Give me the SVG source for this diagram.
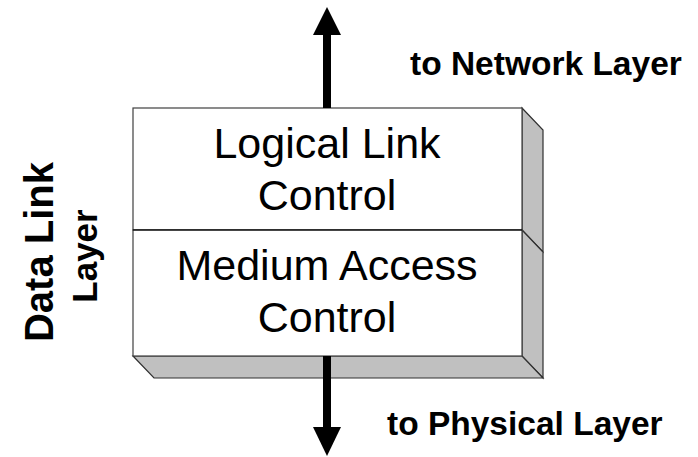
<svg xmlns="http://www.w3.org/2000/svg" width="698" height="457" viewBox="0 0 698 457">
  <defs>
    <style>
      .face { fill: #ffffff; stroke: #404040; stroke-width: 1.2; }
      .side { fill: #c0c0c0; stroke: #303030; stroke-width: 1.2; stroke-linejoin: miter; }
      .divider { stroke: #000000; stroke-width: 1.2; }
      .lbl { font-family: "Liberation Sans", Arial, sans-serif; fill: #000000; text-anchor: middle; }
      .big { font-size: 43px; }
      .note { font-family: "Liberation Sans", Arial, sans-serif; font-weight: bold; font-size: 33.5px; fill: #000000; }
      .side-title { font-family: "Liberation Sans", Arial, sans-serif; font-weight: bold; fill: #000000; text-anchor: middle; }
      .shaft { stroke: #000000; stroke-width: 8; }
      .head { fill: #000000; }
    </style>
  </defs>

  <rect width="698" height="457" fill="#ffffff"/>

  <!-- layer stack: two blocks with a shared extruded side and bottom -->
  <g id="llc">
    <polygon class="side" points="522,108 543,130 543,252 522,230"/>
    <rect class="face" x="133" y="108" width="389" height="122"/>
    <text class="lbl big" x="327" y="158">Logical Link</text>
    <text class="lbl big" x="327" y="210">Control</text>
  </g>

  <g id="mac">
    <polygon class="side" points="522,230 543,252 543,378 522,356"/>
    <polygon class="side" points="133,356 522,356 543,378 154,378"/>
    <rect class="face" x="133" y="230" width="389" height="126"/>
    <line class="divider" x1="133" y1="230" x2="522" y2="230"/>
    <text class="lbl big" x="327" y="280">Medium Access</text>
    <text class="lbl big" x="327" y="332">Control</text>
  </g>

  <g id="dll-title">
    <text class="side-title" font-size="40" transform="translate(53,252) rotate(-90)">Data Link</text>
    <text class="side-title" font-size="35" transform="translate(97,256) rotate(-90)">Layer</text>
  </g>

  <g id="network-label">
    <text class="note" x="410" y="75">to Network Layer</text>
  </g>

  <g id="physical-label">
    <text class="note" x="387" y="435">to Physical Layer</text>
  </g>

  <!-- connectors -->
  <g id="connectors">
    <line class="shaft" x1="327" y1="108" x2="327" y2="32"/>
    <polygon class="head" points="327,7 341,35 313,35"/>
    <line class="shaft" x1="327" y1="356" x2="327" y2="430"/>
    <polygon class="head" points="313,427 341,427 327,456"/>
  </g>
</svg>
